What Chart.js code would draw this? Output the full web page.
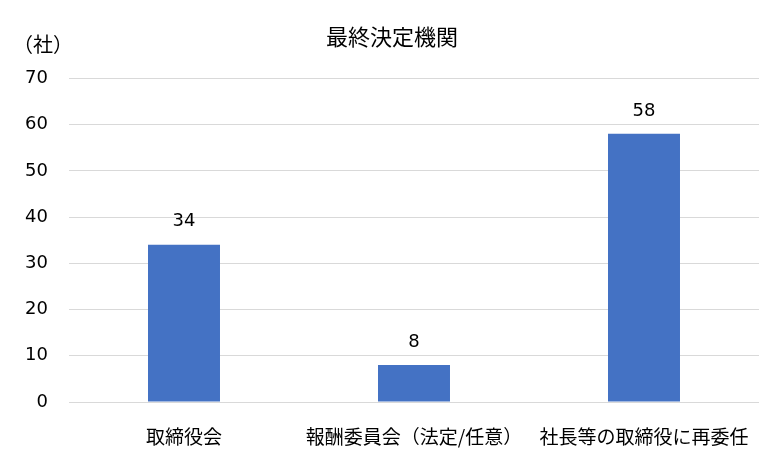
<!DOCTYPE html>
<html>
<head>
<meta charset="utf-8">
<script src="https://cdn.jsdelivr.net/npm/chart.js@4"></script>
<style>
  html, body { margin: 0; padding: 0; background: #fff; }
  #wrap { width: 780px; height: 461px; }
</style>
</head>
<body>
<div id="wrap"><canvas id="c" width="780" height="461"></canvas></div>
<script>
// chart data
const categories = ['取締役会', '報酬委員会（法定/任意）', '社長等の取締役に再委任']
const counts = [34, 8, 58]
const yTicks = [0, 10, 20, 30, 40, 50, 60, 70]

const JP = '"Noto Sans CJK JP", "DejaVu Sans", sans-serif'
const NUM = '"DejaVu Sans", "Noto Sans CJK JP", sans-serif'

// value labels above bars + unit label at top left
const extras = {
  id: 'extras',
  afterDatasetsDraw(chart){
    const ctx = chart.ctx
    const meta = chart.getDatasetMeta(0)
    ctx.save()
    ctx.fillStyle = '#000'
    ctx.font = '18px ' + NUM
    ctx.textAlign = 'center'
    ctx.textBaseline = 'middle'
    meta.data.forEach((bar, i) => {
      ctx.fillText(String(counts[i]), bar.x, bar.y - 23)
    })
    ctx.font = '20px ' + JP
    ctx.textAlign = 'left'
    ctx.fillText('（社）', 13, 44)
    ctx.restore()
  }
}

new Chart(document.getElementById('c'), {
  type: 'bar',
  data: {
    labels: categories,
    datasets: [{
      data: counts,
      backgroundColor: '#4472C4',
      barPercentage: 1,
      categoryPercentage: 0.313
    }]
  },
  options: {
    responsive: false,
    animation: false,
    devicePixelRatio: 1,
    layout: { padding: { left: 25, right: 21, top: 0, bottom: 0 } },
    plugins: {
      legend: { display: false },
      tooltip: { enabled: false },
      title: {
        display: true,
        text: '最終決定機関',
        color: '#000',
        font: { family: JP, size: 22, weight: 'normal' },
        padding: { top: 23, bottom: 29 }
      }
    },
    scales: {
      x: {
        afterFit(axis){ axis.height = 59 },
        grid: { display: false, drawTicks: false },
        border: { display: false },
        ticks: {
          color: '#000',
          font: { family: JP, size: 19 },
          maxRotation: 0,
          autoSkip: false,
          padding: 23
        }
      },
      y: {
        min: 0,
        max: 70,
        afterBuildTicks(axis){ axis.ticks = yTicks.map(v => ({ value: v })) },
        afterFit(axis){ axis.width = 44 },
        grid: { color: '#d9d9d9', lineWidth: 1, drawTicks: false },
        border: { display: false },
        ticks: {
          color: '#000',
          font: { family: NUM, size: 18 },
          padding: 21
        }
      }
    }
  },
  plugins: [extras]
})
</script>
</body>
</html>
